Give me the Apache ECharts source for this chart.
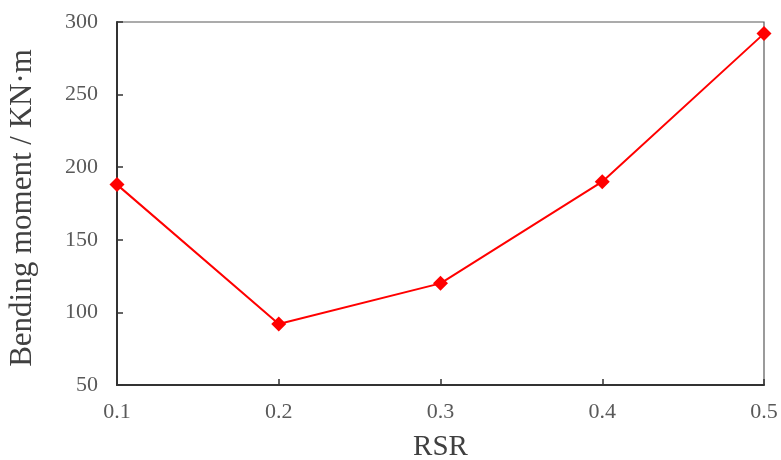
<!DOCTYPE html>
<html>
<head>
<meta charset="utf-8">
<script src="https://cdn.jsdelivr.net/npm/echarts@6/dist/echarts.min.js"></script>
<style>
  html, body { margin: 0; padding: 0; background: #fff; }
  #chart { width: 781px; height: 460px; }
</style>
</head>
<body>
<div id="chart"></div>
<script>
// Bending moment against the RSR ratio
const rsr = [0.1, 0.2, 0.3, 0.4, 0.5];
const bendingMoment = [188, 92, 120, 190, 292];
const yTicks = { min: 50, max: 300, step: 50 };
const xTicks = { min: 0.1, max: 0.5, step: 0.1 };

const serif = '"Liberation Serif", "Times New Roman", serif';
const chart = echarts.init(document.getElementById('chart'));

chart.setOption({
  animation: false,
  grid: {
    left: 117, right: 17, top: 22, bottom: 75,
    outerBoundsMode: 'none',
    containLabel: false,
    show: true, borderColor: '#595959', borderWidth: 1.2, backgroundColor: 'transparent'
  },
  xAxis: {
    type: 'value',
    min: xTicks.min, max: xTicks.max, interval: xTicks.step,
    name: 'RSR',
    nameLocation: 'middle',
    nameGap: 48,
    nameTextStyle: { fontFamily: serif, fontSize: 29, color: '#404040' },
    axisLine: { lineStyle: { color: '#333', width: 2 } },
    axisTick: { inside: true, length: 6, lineStyle: { color: '#333', width: 1.5 } },
    axisLabel: {
      fontFamily: serif, fontSize: 22, color: '#595959', margin: 16,
      formatter: v => v.toFixed(1)
    },
    splitLine: { show: false }
  },
  yAxis: {
    type: 'value',
    min: yTicks.min, max: yTicks.max, interval: yTicks.step,
    name: 'Bending moment / KN·m',
    nameLocation: 'middle',
    nameGap: 79,
    nameTextStyle: { fontFamily: serif, fontSize: 31, color: '#404040', padding: [0, 9, 0, 0] },
    axisLine: { show: true, lineStyle: { color: '#333', width: 2 } },
    axisTick: { show: true, inside: true, length: 6, lineStyle: { color: '#333', width: 1.5 } },
    axisLabel: { fontFamily: serif, fontSize: 22, color: '#595959', margin: 19 },
    splitLine: { show: false }
  },
  series: [{
    type: 'line',
    data: rsr.map((x, i) => [x, bendingMoment[i]]),
    symbol: 'diamond',
    symbolSize: 15,
    color: '#ff0000',
    lineStyle: { color: '#ff0000', width: 2 },
    itemStyle: { color: '#ff0000' }
  }]
});
</script>
</body>
</html>
